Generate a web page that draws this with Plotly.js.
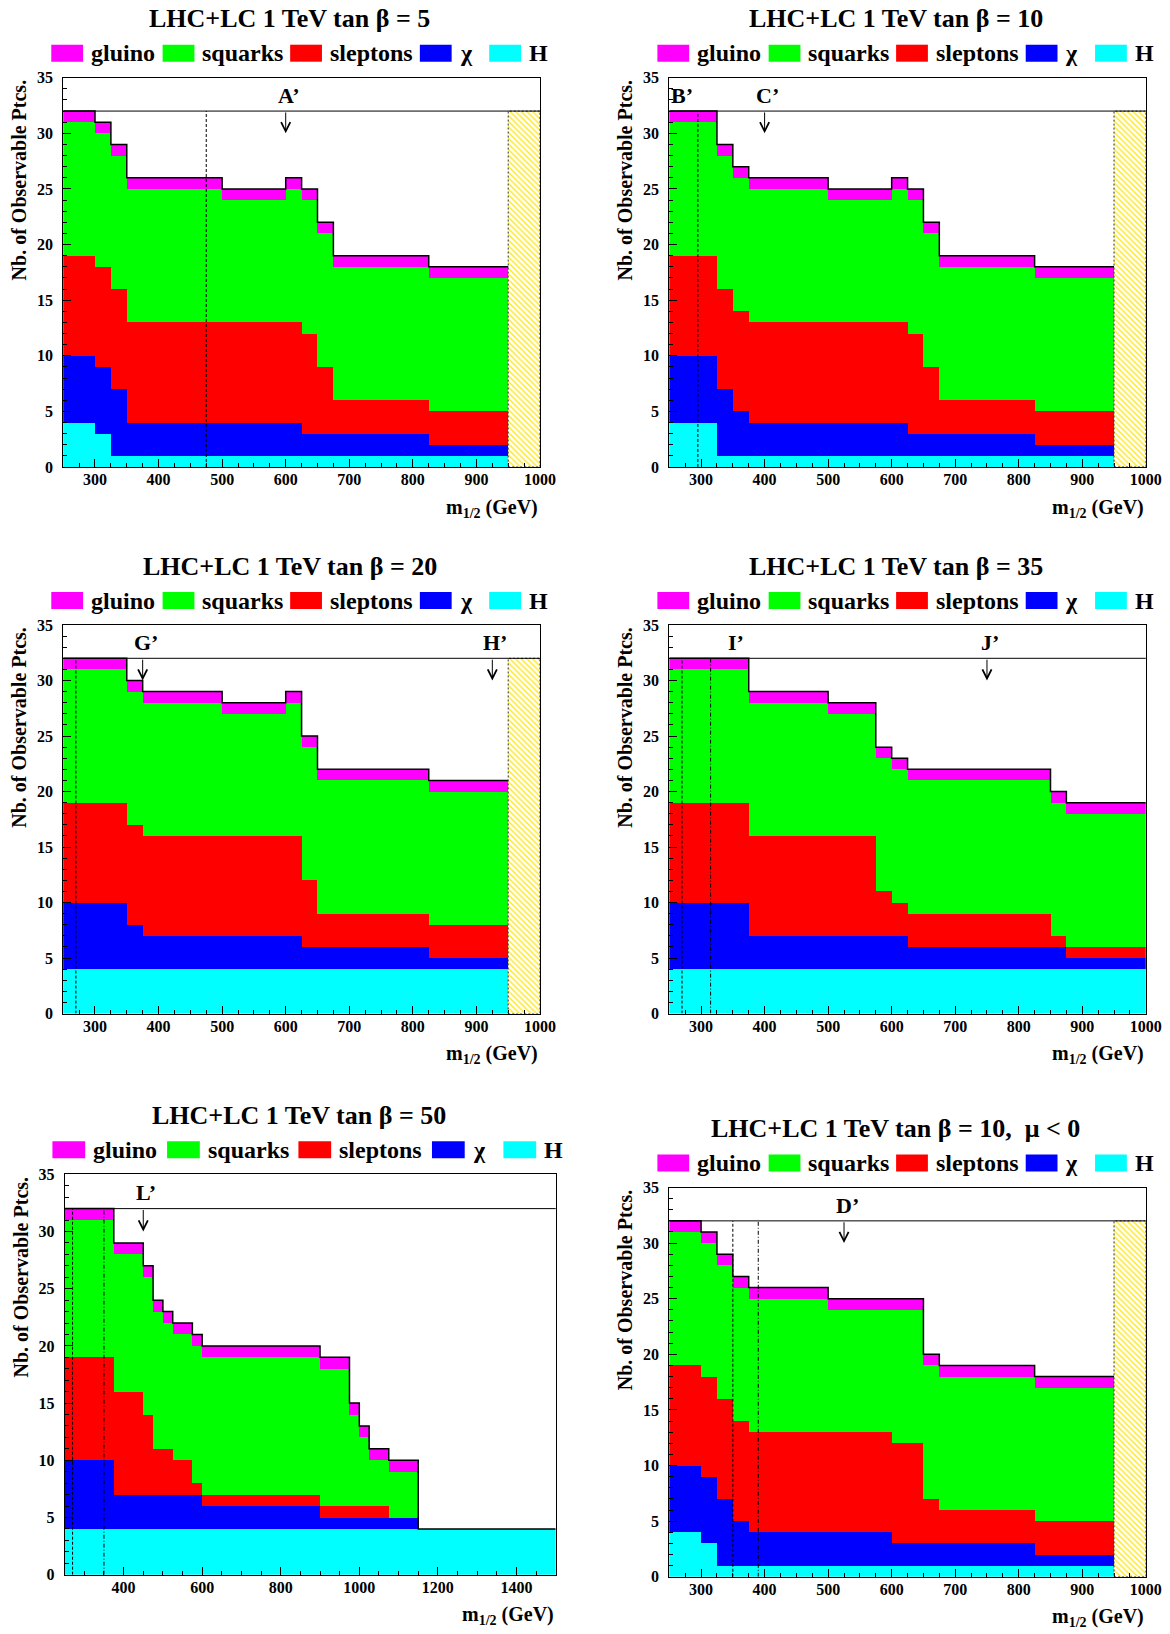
<!DOCTYPE html>
<html>
<head>
<meta charset="utf-8">
<script src="https://cdn.plot.ly/plotly-3.0.1.min.js"></script>
<style>
html,body{margin:0;padding:0;background:#ffffff;}
#chart{width:1170px;height:1634px;}
</style>
</head>
<body>
<div id="chart"></div>
<script>
// ---------------- DATA ----------------
const speciesNames  = ['gluino', 'squarks', 'sleptons', 'χ', 'H'];
const speciesColors = ['#ff00ff', '#00ff00', '#ff0000', '#0000ff', '#00ffff'];

// tan beta = 5
const edges_tb5   = [250, 300, 325, 350, 500, 600, 625, 650, 675, 825, 950];
const H_tb5       = [4, 3, 1, 1, 1, 1, 1, 1, 1, 1];
const chi_tb5     = [6, 6, 6, 3, 3, 3, 2, 2, 2, 1];
const slep_tb5    = [9, 9, 9, 9, 9, 9, 9, 6, 3, 3];
const squark_tb5  = [12, 12, 12, 12, 11, 12, 12, 12, 12, 12];
const gluino_tb5  = [1, 1, 1, 1, 1, 1, 1, 1, 1, 1];
const pts_tb5     = ['A’'];
const ptsX_tb5    = [600];
const lines_tb5   = [475];
const dash_tb5    = ['dash'];
const excl_tb5    = [950, 1000];

// tan beta = 10
const edges_tb10  = [250, 325, 350, 375, 500, 600, 625, 650, 675, 825, 950];
const H_tb10      = [4, 1, 1, 1, 1, 1, 1, 1, 1, 1];
const chi_tb10    = [6, 6, 4, 3, 3, 3, 2, 2, 2, 1];
const slep_tb10   = [9, 9, 9, 9, 9, 9, 9, 6, 3, 3];
const squark_tb10 = [12, 12, 12, 12, 11, 12, 12, 12, 12, 12];
const gluino_tb10 = [1, 1, 1, 1, 1, 1, 1, 1, 1, 1];
const pts_tb10    = ['B’', 'C’'];
const ptsX_tb10   = [250, 400];
const lines_tb10  = [295];
const dash_tb10   = ['dash'];
const excl_tb10   = [950, 1000];

// tan beta = 20
const edges_tb20  = [250, 350, 375, 500, 600, 625, 650, 825, 950];
const H_tb20      = [4, 4, 4, 4, 4, 4, 4, 4];
const chi_tb20    = [6, 4, 3, 3, 3, 2, 2, 1];
const slep_tb20   = [9, 9, 9, 9, 9, 6, 3, 3];
const squark_tb20 = [12, 12, 12, 11, 12, 12, 12, 12];
const gluino_tb20 = [1, 1, 1, 1, 1, 1, 1, 1];
const pts_tb20    = ['G’', 'H’'];
const ptsX_tb20   = [375, 925];
const lines_tb20  = [270];
const dash_tb20   = ['dash'];
const excl_tb20   = [950, 1000];

// tan beta = 35
const edges_tb35  = [250, 375, 500, 575, 600, 625, 850, 875, 1000];
const H_tb35      = [4, 4, 4, 4, 4, 4, 4, 4];
const chi_tb35    = [6, 3, 3, 3, 3, 2, 2, 1];
const slep_tb35   = [9, 9, 9, 4, 3, 3, 1, 1];
const squark_tb35 = [12, 12, 11, 12, 12, 12, 12, 12];
const gluino_tb35 = [1, 1, 1, 1, 1, 1, 1, 1];
const pts_tb35    = ['I’', 'J’'];
const ptsX_tb35   = [350, 750];
const lines_tb35  = [270, 315];
const dash_tb35   = ['dash', 'dashdot'];
const excl_tb35   = [];

// tan beta = 50
const edges_tb50  = [250, 375, 450, 475, 500, 525, 575, 600, 900, 975, 1000, 1025, 1075, 1150, 1500];
const H_tb50      = [4, 4, 4, 4, 4, 4, 4, 4, 4, 4, 4, 4, 4, 4];
const chi_tb50    = [6, 3, 3, 3, 3, 3, 3, 2, 1, 1, 1, 1, 1, 0];
const slep_tb50   = [9, 9, 7, 4, 4, 3, 1, 1, 1, 1, 1, 1, 0, 0];
const squark_tb50 = [12, 12, 12, 12, 11, 11, 12, 12, 12, 8, 6, 4, 4, 0];
const gluino_tb50 = [1, 1, 1, 1, 1, 1, 1, 1, 1, 1, 1, 1, 1, 0];
const pts_tb50    = ['L’'];
const ptsX_tb50   = [450];
const lines_tb50  = [270, 350];
const dash_tb50   = ['dash', 'dashdot'];
const excl_tb50   = [];

// tan beta = 10, mu < 0
const edges_tb10n  = [250, 300, 325, 350, 375, 500, 600, 650, 675, 825, 950];
const H_tb10n      = [4, 3, 1, 1, 1, 1, 1, 1, 1, 1];
const chi_tb10n    = [6, 6, 6, 4, 3, 3, 2, 2, 2, 1];
const slep_tb10n   = [9, 9, 9, 9, 9, 9, 9, 4, 3, 3];
const squark_tb10n = [12, 12, 12, 12, 12, 11, 12, 12, 12, 12];
const gluino_tb10n = [1, 1, 1, 1, 1, 1, 1, 1, 1, 1];
const pts_tb10n    = ['D’'];
const ptsX_tb10n   = [525];
const lines_tb10n  = [350, 390];
const dash_tb10n   = ['dash', 'dashdot'];
const excl_tb10n   = [950, 1000];

const maxLine = 32;

// ---------------- LAYOUT ----------------
const W = 1170, HGT = 1634;
const fx = px => px / W;
const fy = py => 1 - py / HGT;
const FONT = 'Liberation Serif, Times New Roman, serif';
const dashStyles = {dash: '3px,2px', dashdot: '4px,2px,1px,2px'};

const panels = [
  {title: 'LHC+LC 1 TeV tan β = 5', rect: [63.2, 77.7, 540, 467], xr: [250, 1000], dt: 100, mdt: 25,
   d: [edges_tb5, H_tb5, chi_tb5, slep_tb5, squark_tb5, gluino_tb5, pts_tb5, ptsX_tb5, lines_tb5, dash_tb5, excl_tb5]},
  {title: 'LHC+LC 1 TeV tan β = 10', rect: [669.3, 77.7, 1145.8, 467], xr: [250, 1000], dt: 100, mdt: 25,
   d: [edges_tb10, H_tb10, chi_tb10, slep_tb10, squark_tb10, gluino_tb10, pts_tb10, ptsX_tb10, lines_tb10, dash_tb10, excl_tb10]},
  {title: 'LHC+LC 1 TeV tan β = 20', rect: [63.2, 625, 540, 1013.6], xr: [250, 1000], dt: 100, mdt: 25,
   d: [edges_tb20, H_tb20, chi_tb20, slep_tb20, squark_tb20, gluino_tb20, pts_tb20, ptsX_tb20, lines_tb20, dash_tb20, excl_tb20]},
  {title: 'LHC+LC 1 TeV tan β = 35', rect: [669.3, 625, 1145.8, 1013.6], xr: [250, 1000], dt: 100, mdt: 25,
   d: [edges_tb35, H_tb35, chi_tb35, slep_tb35, squark_tb35, gluino_tb35, pts_tb35, ptsX_tb35, lines_tb35, dash_tb35, excl_tb35]},
  {title: 'LHC+LC 1 TeV tan β = 50', rect: [64.7, 1174.3, 555.7, 1574.7], xr: [250, 1500], dt: 200, mdt: 50,
   d: [edges_tb50, H_tb50, chi_tb50, slep_tb50, squark_tb50, gluino_tb50, pts_tb50, ptsX_tb50, lines_tb50, dash_tb50, excl_tb50]},
  {title: 'LHC+LC 1 TeV tan β = 10,\u00a0 μ < 0', rect: [669.3, 1187.5, 1145.8, 1576.8], xr: [250, 1000], dt: 100, mdt: 25,
   d: [edges_tb10n, H_tb10n, chi_tb10n, slep_tb10n, squark_tb10n, gluino_tb10n, pts_tb10n, ptsX_tb10n, lines_tb10n, dash_tb10n, excl_tb10n]}
];

const legendBoxFrac = [-0.025, 0.2085, 0.476, 0.748, 0.8935];
const legendBoxW = 0.0667, legendTextOff = 0.079;

const traces = [];
const shapes = [];
const annotations = [];
const layout = {
  width: W, height: HGT,
  margin: {l: 0, r: 0, t: 0, b: 0},
  paper_bgcolor: '#ffffff', plot_bgcolor: '#ffffff',
  barmode: 'stack', bargap: 0, showlegend: false,
  font: {family: FONT, color: '#000000'}
};

panels.forEach((p, i) => {
  const s = i === 0 ? '' : String(i + 1);
  const xa = 'x' + s, ya = 'y' + s;
  const [edges, Hc, chi, slep, sq, gl, pts, ptsX, vlines, vdash, excl] = p.d;
  const [L, T, R, B] = p.rect;
  const wpx = R - L;

  const centers = edges.slice(0, -1).map((e, k) => (e + edges[k + 1]) / 2);
  const widths = edges.slice(0, -1).map((e, k) => edges[k + 1] - e);
  const series = [Hc, chi, slep, sq, gl];
  const colorsBottomUp = [speciesColors[4], speciesColors[3], speciesColors[2], speciesColors[1], speciesColors[0]];
  series.forEach((vals, j) => {
    traces.push({
      type: 'bar', x: centers, y: vals, width: widths, xaxis: xa, yaxis: ya,
      marker: {color: colorsBottomUp[j], line: {width: 0}}, hoverinfo: 'skip'
    });
  });
  const total = centers.map((_, k) => series.reduce((a, v) => a + v[k], 0));

  if (excl.length) {
    traces.push({
      type: 'bar', x: [(excl[0] + excl[1]) / 2], y: [maxLine], width: [excl[1] - excl[0]],
      xaxis: xa, yaxis: ya, hoverinfo: 'skip',
      marker: {color: '#ffe81a', line: {width: 0},
               pattern: {shape: '\\', bgcolor: '#ffffff', fgcolor: '#ffe81a', size: 4, solidity: 0.35}}
    });
    shapes.push({type: 'rect', xref: xa, yref: ya, x0: excl[0], x1: excl[1], y0: 0, y1: maxLine,
                 line: {color: '#333333', width: 1, dash: '2px,2px'}, fillcolor: 'rgba(0,0,0,0)', layer: 'above'});
  }

  traces.push({
    type: 'scatter', mode: 'lines', x: edges, y: total.concat([total[total.length - 1]]),
    xaxis: xa, yaxis: ya, line: {color: '#000000', width: 1.5, shape: 'hv'}, hoverinfo: 'skip'
  });

  vlines.forEach((xv, k) => {
    shapes.push({type: 'line', xref: xa, yref: ya, x0: xv, x1: xv, y0: 0, y1: maxLine,
                 line: {color: '#000000', width: 1, dash: dashStyles[vdash[k]]}, layer: 'above'});
  });
  shapes.push({type: 'line', xref: xa + ' domain', yref: ya, x0: 0, x1: 1, y0: maxLine, y1: maxLine,
               line: {color: '#000000', width: 1}, layer: 'above'});

  pts.forEach((lab, k) => {
    const xv = ptsX[k];
    const bin = edges.findIndex((e, m) => m < edges.length - 1 && xv >= e && xv < edges[m + 1]);
    const hidden = bin >= 0 && total[bin] >= maxLine - 1;
    annotations.push({xref: xa, yref: ya, x: xv, y: 33.4, text: lab, showarrow: false,
                      xanchor: xv <= p.xr[0] ? 'left' : 'center', xshift: xv <= p.xr[0] ? 0 : 3,
                      yanchor: 'middle', font: {family: FONT, size: 22, weight: 'bold', color: '#000'}});
    if (!hidden) {
      annotations.push({xref: xa, yref: ya, axref: xa, ayref: ya, x: xv, y: 30, ax: xv, ay: maxLine + 0.1,
                        text: ' ', font: {size: 2}, showarrow: true, arrowhead: 5, arrowsize: 1.8, arrowwidth: 1,
                        arrowcolor: '#000000', standoff: 0, startstandoff: 0});
    }
  });

  const tickfont = {family: FONT, size: 16, weight: 'bold', color: '#000'};
  layout['xaxis' + s] = {
    domain: [fx(L), fx(R)], anchor: ya, range: p.xr, tick0: 0, dtick: p.dt,
    ticks: 'inside', ticklen: 8, tickwidth: 1, tickcolor: '#000',
    minor: {dtick: p.mdt, tick0: 0, ticks: 'inside', ticklen: 4, tickcolor: '#000', showgrid: false},
    showline: true, linecolor: '#000', linewidth: 1, mirror: true,
    showgrid: false, zeroline: false, tickfont: tickfont, ticklabelstandoff: -2, fixedrange: true
  };
  layout['yaxis' + s] = {
    domain: [fy(B), fy(T)], anchor: xa, range: [0, 35], tick0: 0, dtick: 5,
    ticks: 'inside', ticklen: 8, tickwidth: 1, tickcolor: '#000',
    minor: {dtick: 1, tick0: 0, ticks: 'inside', ticklen: 4, tickcolor: '#000', showgrid: false},
    showline: true, linecolor: '#000', linewidth: 1, mirror: true,
    showgrid: false, zeroline: false, tickfont: tickfont, ticklabelstandoff: 6, fixedrange: true
  };

  // title
  annotations.push({xref: 'paper', yref: 'paper', x: fx((L + R) / 2 - 11.7), y: fy(T - 59),
                    text: p.title, showarrow: false, xanchor: 'center', yanchor: 'middle',
                    font: {family: FONT, size: 26, weight: 'bold', color: '#000'}});
  // axis titles
  annotations.push({xref: 'paper', yref: 'paper', x: fx(L - 44), y: fy(T), text: 'Nb. of Observable Ptcs.',
                    textangle: -90, showarrow: false, xanchor: 'center', yanchor: 'top',
                    font: {family: FONT, size: 20, weight: 'bold', color: '#000'}});
  annotations.push({xref: 'paper', yref: 'paper', x: fx(R), y: fy(B + 41), text: 'm<sub>1/2</sub> (GeV)',
                    showarrow: false, xanchor: 'right', yanchor: 'middle',
                    font: {family: FONT, size: 20, weight: 'bold', color: '#000'}});
  // legend
  const ly = T - 24.5;
  speciesNames.forEach((nm, j) => {
    const bx = L + legendBoxFrac[j] * wpx;
    shapes.push({type: 'rect', xref: 'paper', yref: 'paper', x0: fx(bx), x1: fx(bx + legendBoxW * wpx),
                 y0: fy(ly + 8.5), y1: fy(ly - 8.5), fillcolor: speciesColors[j], line: {width: 0}});
    annotations.push({xref: 'paper', yref: 'paper', x: fx(bx + legendTextOff * wpx), y: fy(ly),
                      text: nm, showarrow: false, xanchor: 'left', yanchor: 'middle',
                      font: {family: FONT, size: 24, weight: 'bold', color: '#000'}});
  });
});

layout.shapes = shapes;
layout.annotations = annotations;

Plotly.newPlot('chart', traces, layout, {staticPlot: true, displayModeBar: false});
</script>
</body>
</html>
